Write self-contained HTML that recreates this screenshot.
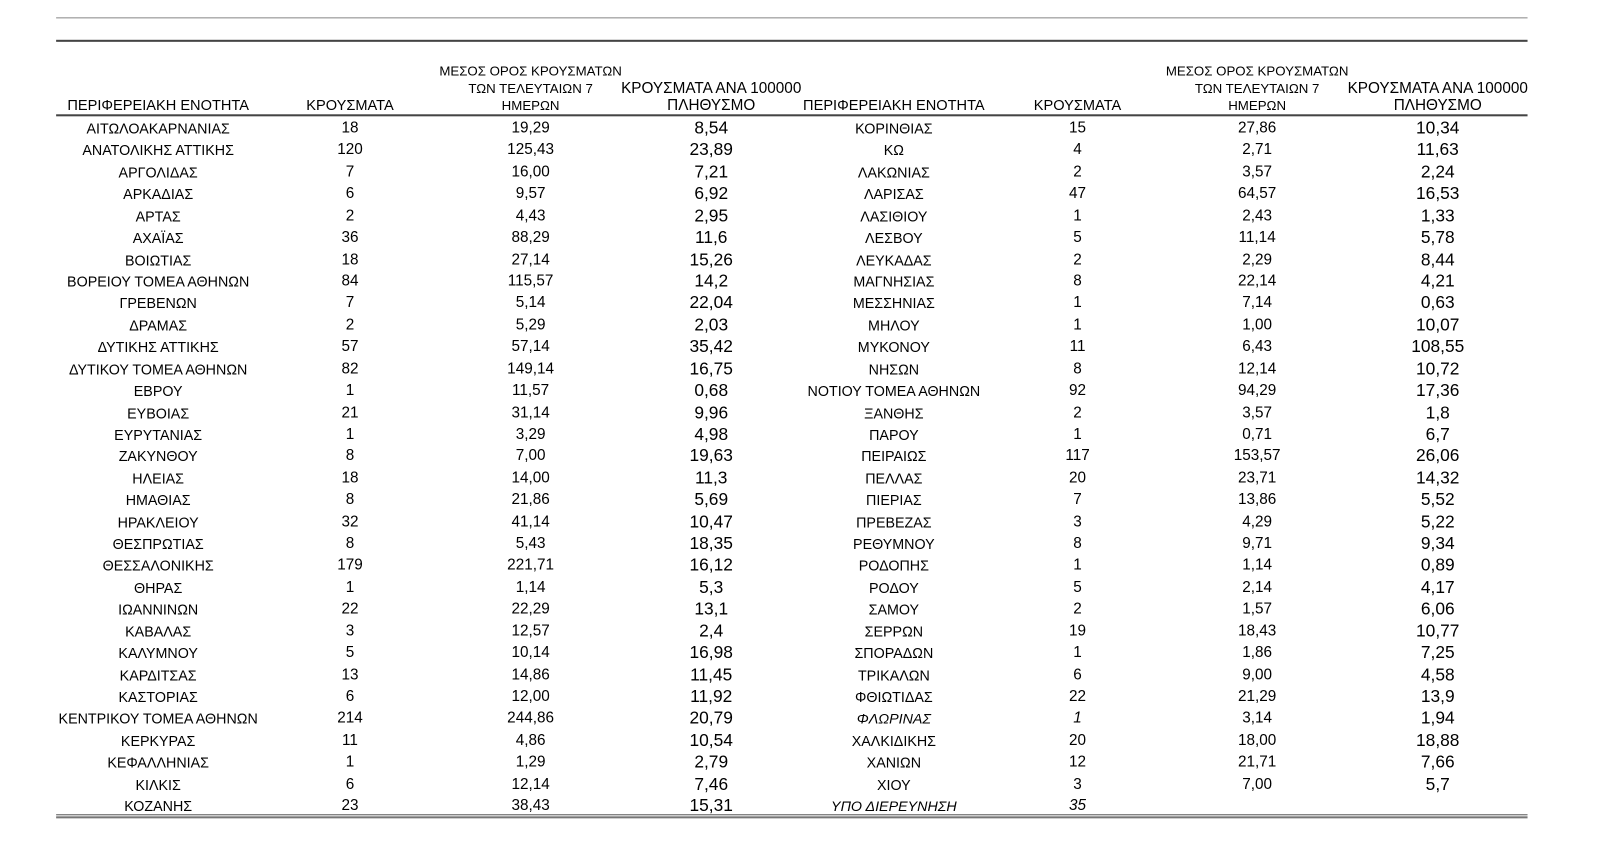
<!DOCTYPE html>
<html><head><meta charset="utf-8"><style>
html,body{margin:0;padding:0;background:#fff;}
body{width:1600px;height:853px;position:relative;overflow:hidden;font-family:"Liberation Sans","DejaVu Sans",sans-serif;color:#000;font-size:14px;}
#w{position:absolute;left:0;top:0;width:1568px;height:836px;transform:scale(1.0204);transform-origin:0 0;}
.ln{position:absolute;left:55px;width:1442px;}
.r{position:absolute;left:0;width:1568px;height:18px;line-height:18px;}
.r span{position:absolute;text-align:center;white-space:nowrap;}
.c1{left:35px;width:240px}.c2{left:293px;width:100px;font-size:15px}.c3{left:460px;width:120px;font-size:15px}.c4{left:637px;width:120px;font-size:17px}
.c5{left:746px;width:260px}.c6{left:1006px;width:100px;font-size:15px}.c7{left:1172px;width:120px;font-size:15px}.c8{left:1329px;width:160px;font-size:17px}
.h{position:absolute;text-align:center;white-space:nowrap;font-size:13px;line-height:17px;}
i{font-style:italic}
</style></head><body><div id="w">
<div class="ln" style="top:17px;height:1px;background:#888"></div>
<div class="ln" style="top:39px;height:2px;background:#444"></div>
<div class="ln" style="top:112px;height:2px;background:#444"></div>
<div class="ln" style="top:798px;height:1px;background:#555"></div>
<div class="ln" style="top:800px;height:2px;background:#777"></div>

<div class="h" style="left:35px;width:240px;top:96px;font-size:14.3px">ΠΕΡΙΦΕΡΕΙΑΚΗ ΕΝΟΤΗΤΑ</div>
<div class="h" style="left:293px;width:100px;top:96px;font-size:14.3px">ΚΡΟΥΣΜΑΤΑ</div>
<div class="h" style="left:420px;width:200px;top:61px">ΜΕΣΟΣ ΟΡΟΣ ΚΡΟΥΣΜΑΤΩΝ<br>ΤΩΝ ΤΕΛΕΥΤΑΙΩΝ 7<br>ΗΜΕΡΩΝ</div>
<div class="h" style="left:597px;width:200px;top:78px;font-size:15px">ΚΡΟΥΣΜΑΤΑ ΑΝΑ 100000<br>ΠΛΗΘΥΣΜΟ</div>
<div class="h" style="left:746px;width:260px;top:96px;font-size:14.3px">ΠΕΡΙΦΕΡΕΙΑΚΗ ΕΝΟΤΗΤΑ</div>
<div class="h" style="left:1006px;width:100px;top:96px;font-size:14.3px">ΚΡΟΥΣΜΑΤΑ</div>
<div class="h" style="left:1132px;width:200px;top:61px">ΜΕΣΟΣ ΟΡΟΣ ΚΡΟΥΣΜΑΤΩΝ<br>ΤΩΝ ΤΕΛΕΥΤΑΙΩΝ 7<br>ΗΜΕΡΩΝ</div>
<div class="h" style="left:1309px;width:200px;top:78px;font-size:15px">ΚΡΟΥΣΜΑΤΑ ΑΝΑ 100000<br>ΠΛΗΘΥΣΜΟ</div>

<div class="r" style="top:117px"><span class="c1">ΑΙΤΩΛΟΑΚΑΡΝΑΝΙΑΣ</span><span class="c2">18</span><span class="c3">19,29</span><span class="c4">8,54</span><span class="c5">ΚΟΡΙΝΘΙΑΣ</span><span class="c6">15</span><span class="c7">27,86</span><span class="c8">10,34</span></div>
<div class="r" style="top:138.4px"><span class="c1">ΑΝΑΤΟΛΙΚΗΣ ΑΤΤΙΚΗΣ</span><span class="c2">120</span><span class="c3">125,43</span><span class="c4">23,89</span><span class="c5">ΚΩ</span><span class="c6">4</span><span class="c7">2,71</span><span class="c8">11,63</span></div>
<div class="r" style="top:159.8px"><span class="c1">ΑΡΓΟΛΙΔΑΣ</span><span class="c2">7</span><span class="c3">16,00</span><span class="c4">7,21</span><span class="c5">ΛΑΚΩΝΙΑΣ</span><span class="c6">2</span><span class="c7">3,57</span><span class="c8">2,24</span></div>
<div class="r" style="top:181.3px"><span class="c1">ΑΡΚΑΔΙΑΣ</span><span class="c2">6</span><span class="c3">9,57</span><span class="c4">6,92</span><span class="c5">ΛΑΡΙΣΑΣ</span><span class="c6">47</span><span class="c7">64,57</span><span class="c8">16,53</span></div>
<div class="r" style="top:202.7px"><span class="c1">ΑΡΤΑΣ</span><span class="c2">2</span><span class="c3">4,43</span><span class="c4">2,95</span><span class="c5">ΛΑΣΙΘΙΟΥ</span><span class="c6">1</span><span class="c7">2,43</span><span class="c8">1,33</span></div>
<div class="r" style="top:224.1px"><span class="c1">ΑΧΑΪΑΣ</span><span class="c2">36</span><span class="c3">88,29</span><span class="c4">11,6</span><span class="c5">ΛΕΣΒΟΥ</span><span class="c6">5</span><span class="c7">11,14</span><span class="c8">5,78</span></div>
<div class="r" style="top:245.5px"><span class="c1">ΒΟΙΩΤΙΑΣ</span><span class="c2">18</span><span class="c3">27,14</span><span class="c4">15,26</span><span class="c5">ΛΕΥΚΑΔΑΣ</span><span class="c6">2</span><span class="c7">2,29</span><span class="c8">8,44</span></div>
<div class="r" style="top:266.9px"><span class="c1">ΒΟΡΕΙΟΥ ΤΟΜΕΑ ΑΘΗΝΩΝ</span><span class="c2">84</span><span class="c3">115,57</span><span class="c4">14,2</span><span class="c5">ΜΑΓΝΗΣΙΑΣ</span><span class="c6">8</span><span class="c7">22,14</span><span class="c8">4,21</span></div>
<div class="r" style="top:288.4px"><span class="c1">ΓΡΕΒΕΝΩΝ</span><span class="c2">7</span><span class="c3">5,14</span><span class="c4">22,04</span><span class="c5">ΜΕΣΣΗΝΙΑΣ</span><span class="c6">1</span><span class="c7">7,14</span><span class="c8">0,63</span></div>
<div class="r" style="top:309.8px"><span class="c1">ΔΡΑΜΑΣ</span><span class="c2">2</span><span class="c3">5,29</span><span class="c4">2,03</span><span class="c5">ΜΗΛΟΥ</span><span class="c6">1</span><span class="c7">1,00</span><span class="c8">10,07</span></div>
<div class="r" style="top:331.2px"><span class="c1">ΔΥΤΙΚΗΣ ΑΤΤΙΚΗΣ</span><span class="c2">57</span><span class="c3">57,14</span><span class="c4">35,42</span><span class="c5">ΜΥΚΟΝΟΥ</span><span class="c6">11</span><span class="c7">6,43</span><span class="c8">108,55</span></div>
<div class="r" style="top:352.6px"><span class="c1">ΔΥΤΙΚΟΥ ΤΟΜΕΑ ΑΘΗΝΩΝ</span><span class="c2">82</span><span class="c3">149,14</span><span class="c4">16,75</span><span class="c5">ΝΗΣΩΝ</span><span class="c6">8</span><span class="c7">12,14</span><span class="c8">10,72</span></div>
<div class="r" style="top:374px"><span class="c1">ΕΒΡΟΥ</span><span class="c2">1</span><span class="c3">11,57</span><span class="c4">0,68</span><span class="c5">ΝΟΤΙΟΥ ΤΟΜΕΑ ΑΘΗΝΩΝ</span><span class="c6">92</span><span class="c7">94,29</span><span class="c8">17,36</span></div>
<div class="r" style="top:395.5px"><span class="c1">ΕΥΒΟΙΑΣ</span><span class="c2">21</span><span class="c3">31,14</span><span class="c4">9,96</span><span class="c5">ΞΑΝΘΗΣ</span><span class="c6">2</span><span class="c7">3,57</span><span class="c8">1,8</span></div>
<div class="r" style="top:416.9px"><span class="c1">ΕΥΡΥΤΑΝΙΑΣ</span><span class="c2">1</span><span class="c3">3,29</span><span class="c4">4,98</span><span class="c5">ΠΑΡΟΥ</span><span class="c6">1</span><span class="c7">0,71</span><span class="c8">6,7</span></div>
<div class="r" style="top:438.3px"><span class="c1">ΖΑΚΥΝΘΟΥ</span><span class="c2">8</span><span class="c3">7,00</span><span class="c4">19,63</span><span class="c5">ΠΕΙΡΑΙΩΣ</span><span class="c6">117</span><span class="c7">153,57</span><span class="c8">26,06</span></div>
<div class="r" style="top:459.7px"><span class="c1">ΗΛΕΙΑΣ</span><span class="c2">18</span><span class="c3">14,00</span><span class="c4">11,3</span><span class="c5">ΠΕΛΛΑΣ</span><span class="c6">20</span><span class="c7">23,71</span><span class="c8">14,32</span></div>
<div class="r" style="top:481.1px"><span class="c1">ΗΜΑΘΙΑΣ</span><span class="c2">8</span><span class="c3">21,86</span><span class="c4">5,69</span><span class="c5">ΠΙΕΡΙΑΣ</span><span class="c6">7</span><span class="c7">13,86</span><span class="c8">5,52</span></div>
<div class="r" style="top:502.6px"><span class="c1">ΗΡΑΚΛΕΙΟΥ</span><span class="c2">32</span><span class="c3">41,14</span><span class="c4">10,47</span><span class="c5">ΠΡΕΒΕΖΑΣ</span><span class="c6">3</span><span class="c7">4,29</span><span class="c8">5,22</span></div>
<div class="r" style="top:524px"><span class="c1">ΘΕΣΠΡΩΤΙΑΣ</span><span class="c2">8</span><span class="c3">5,43</span><span class="c4">18,35</span><span class="c5">ΡΕΘΥΜΝΟΥ</span><span class="c6">8</span><span class="c7">9,71</span><span class="c8">9,34</span></div>
<div class="r" style="top:545.4px"><span class="c1">ΘΕΣΣΑΛΟΝΙΚΗΣ</span><span class="c2">179</span><span class="c3">221,71</span><span class="c4">16,12</span><span class="c5">ΡΟΔΟΠΗΣ</span><span class="c6">1</span><span class="c7">1,14</span><span class="c8">0,89</span></div>
<div class="r" style="top:566.8px"><span class="c1">ΘΗΡΑΣ</span><span class="c2">1</span><span class="c3">1,14</span><span class="c4">5,3</span><span class="c5">ΡΟΔΟΥ</span><span class="c6">5</span><span class="c7">2,14</span><span class="c8">4,17</span></div>
<div class="r" style="top:588.2px"><span class="c1">ΙΩΑΝΝΙΝΩΝ</span><span class="c2">22</span><span class="c3">22,29</span><span class="c4">13,1</span><span class="c5">ΣΑΜΟΥ</span><span class="c6">2</span><span class="c7">1,57</span><span class="c8">6,06</span></div>
<div class="r" style="top:609.7px"><span class="c1">ΚΑΒΑΛΑΣ</span><span class="c2">3</span><span class="c3">12,57</span><span class="c4">2,4</span><span class="c5">ΣΕΡΡΩΝ</span><span class="c6">19</span><span class="c7">18,43</span><span class="c8">10,77</span></div>
<div class="r" style="top:631.1px"><span class="c1">ΚΑΛΥΜΝΟΥ</span><span class="c2">5</span><span class="c3">10,14</span><span class="c4">16,98</span><span class="c5">ΣΠΟΡΑΔΩΝ</span><span class="c6">1</span><span class="c7">1,86</span><span class="c8">7,25</span></div>
<div class="r" style="top:652.5px"><span class="c1">ΚΑΡΔΙΤΣΑΣ</span><span class="c2">13</span><span class="c3">14,86</span><span class="c4">11,45</span><span class="c5">ΤΡΙΚΑΛΩΝ</span><span class="c6">6</span><span class="c7">9,00</span><span class="c8">4,58</span></div>
<div class="r" style="top:673.9px"><span class="c1">ΚΑΣΤΟΡΙΑΣ</span><span class="c2">6</span><span class="c3">12,00</span><span class="c4">11,92</span><span class="c5">ΦΘΙΩΤΙΔΑΣ</span><span class="c6">22</span><span class="c7">21,29</span><span class="c8">13,9</span></div>
<div class="r" style="top:695.3px"><span class="c1">ΚΕΝΤΡΙΚΟΥ ΤΟΜΕΑ ΑΘΗΝΩΝ</span><span class="c2">214</span><span class="c3">244,86</span><span class="c4">20,79</span><span class="c5"><i>ΦΛΩΡΙΝΑΣ</i></span><span class="c6"><i>1</i></span><span class="c7">3,14</span><span class="c8">1,94</span></div>
<div class="r" style="top:716.8px"><span class="c1">ΚΕΡΚΥΡΑΣ</span><span class="c2">11</span><span class="c3">4,86</span><span class="c4">10,54</span><span class="c5">ΧΑΛΚΙΔΙΚΗΣ</span><span class="c6">20</span><span class="c7">18,00</span><span class="c8">18,88</span></div>
<div class="r" style="top:738.2px"><span class="c1">ΚΕΦΑΛΛΗΝΙΑΣ</span><span class="c2">1</span><span class="c3">1,29</span><span class="c4">2,79</span><span class="c5">ΧΑΝΙΩΝ</span><span class="c6">12</span><span class="c7">21,71</span><span class="c8">7,66</span></div>
<div class="r" style="top:759.6px"><span class="c1">ΚΙΛΚΙΣ</span><span class="c2">6</span><span class="c3">12,14</span><span class="c4">7,46</span><span class="c5">ΧΙΟΥ</span><span class="c6">3</span><span class="c7">7,00</span><span class="c8">5,7</span></div>
<div class="r" style="top:781px"><span class="c1">ΚΟΖΑΝΗΣ</span><span class="c2">23</span><span class="c3">38,43</span><span class="c4">15,31</span><span class="c5"><i>ΥΠΟ ΔΙΕΡΕΥΝΗΣΗ</i></span><span class="c6"><i>35</i></span></div>
</div></body></html>
